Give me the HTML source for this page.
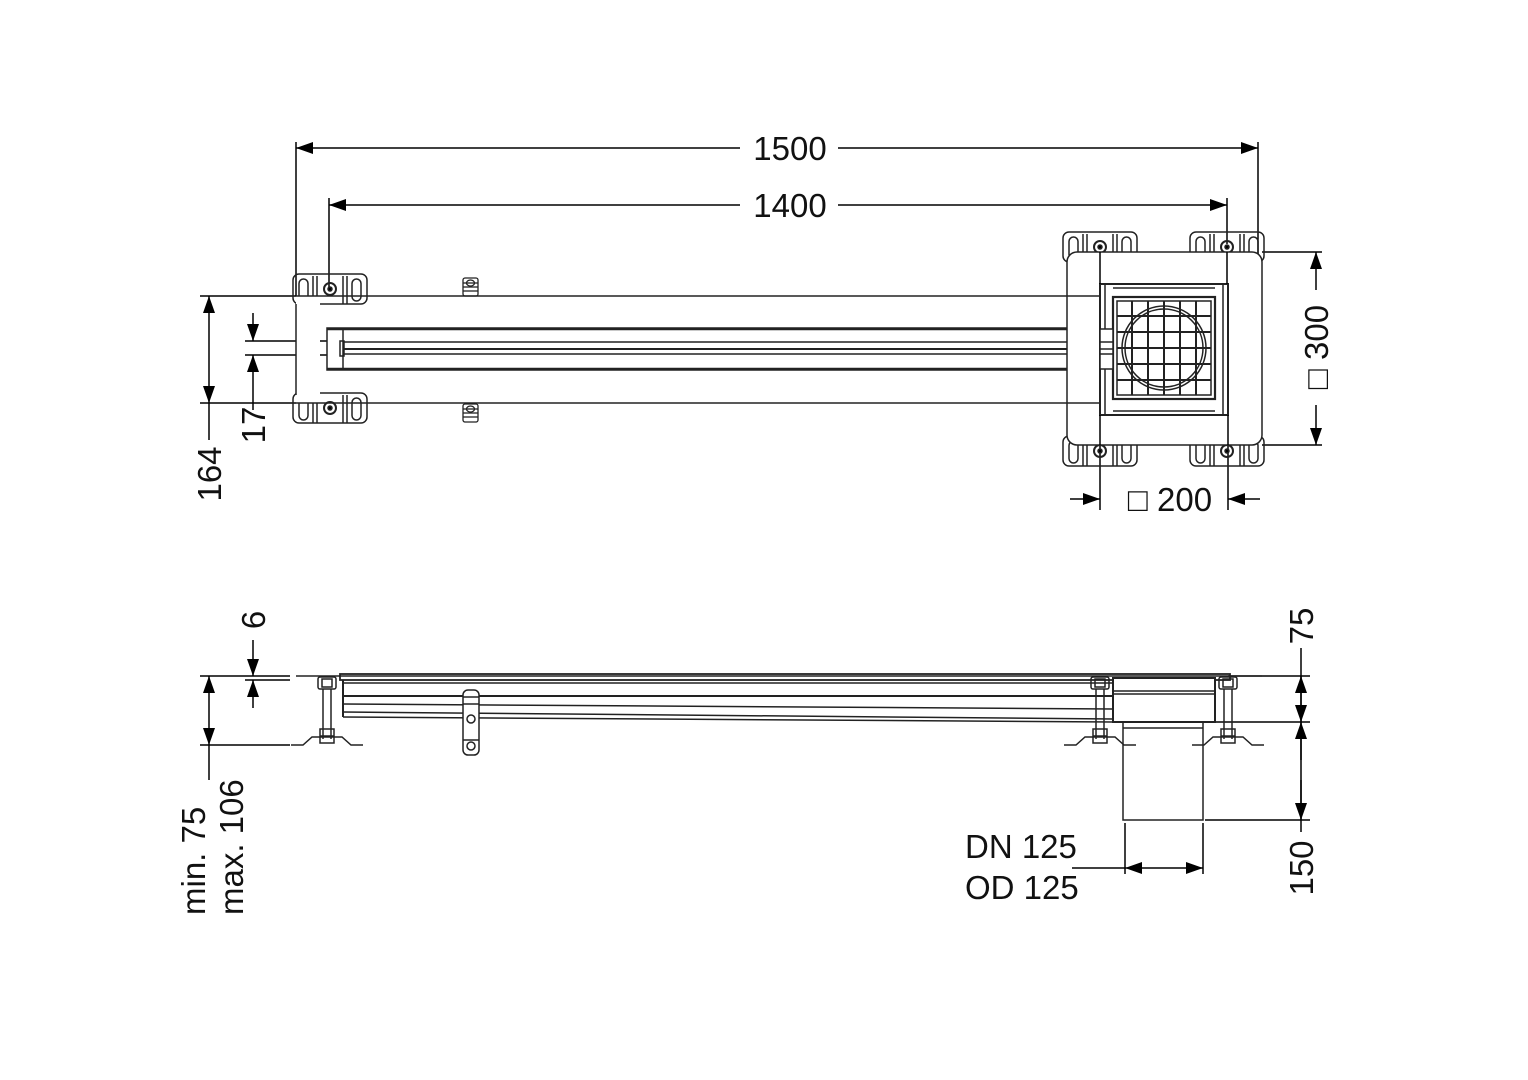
<!DOCTYPE html>
<html><head><meta charset="utf-8"><style>
html,body{margin:0;padding:0;background:#fff;}
svg{display:block}
text{font-family:"Liberation Sans",Arial,sans-serif;font-size:33px;fill:#111}
</style></head><body>
<svg width="1528" height="1080" viewBox="0 0 1528 1080" xmlns="http://www.w3.org/2000/svg">
<defs>
<marker id="a" markerUnits="userSpaceOnUse" markerWidth="18" markerHeight="14" refX="17" refY="6" orient="auto"><path d="M0,0 L17,6 L0,12 z" fill="#000"/></marker>
<g id="plate" fill="none" stroke="#222" stroke-width="1.5">
<rect x="0" y="0" width="74" height="30" rx="6"/>
<rect x="6" y="5" width="9" height="22" rx="4.5"/>
<rect x="59" y="5" width="9" height="22" rx="4.5"/>
<line x1="20" y1="2" x2="20" y2="30"/><line x1="24" y1="2" x2="24" y2="30"/>
<line x1="50" y1="2" x2="50" y2="30"/><line x1="54" y1="2" x2="54" y2="30"/>
<circle cx="37" cy="15" r="6" stroke-width="2"/><circle cx="37" cy="15" r="2" fill="#000"/>
</g>
<g id="clip" fill="none" stroke="#222" stroke-width="1.3">
<rect x="0" y="0" width="15" height="18" rx="2"/>
<line x1="0" y1="5" x2="15" y2="5"/><line x1="0" y1="9" x2="15" y2="9"/><line x1="0" y1="13" x2="15" y2="13"/>
<ellipse cx="7.5" cy="5" rx="4" ry="3"/>
</g>
<g id="bolt" fill="none" stroke="#222" stroke-width="1.5">
<rect x="-9" y="0" width="18" height="12" rx="2"/>
<rect x="-5" y="2" width="10" height="8"/>
<line x1="-4" y1="12" x2="-4" y2="62"/><line x1="4" y1="12" x2="4" y2="62"/>
<rect x="-7" y="52" width="14" height="14"/>
<line x1="-7" y1="59" x2="7" y2="59"/>
<path d="M-36,68 L-24,68 L-15,60 L15,60 L24,68 L36,68"/>
</g>
</defs>

<g stroke="#000" stroke-width="1.5" fill="none">
<line x1="296" y1="142" x2="296" y2="296"/>
<line x1="1258" y1="142" x2="1258" y2="268"/>
<line x1="740" y1="148" x2="296" y2="148" marker-end="url(#a)"/>
<line x1="838" y1="148" x2="1258" y2="148" marker-end="url(#a)"/>
<line x1="329" y1="198" x2="329" y2="290"/>
<line x1="1227" y1="198" x2="1227" y2="244"/>
<line x1="740" y1="205" x2="329" y2="205" marker-end="url(#a)"/>
<line x1="838" y1="205" x2="1227" y2="205" marker-end="url(#a)"/>

<line x1="200" y1="296" x2="296" y2="296"/>
<line x1="200" y1="403" x2="296" y2="403"/>
<line x1="209" y1="350" x2="209" y2="296" marker-end="url(#a)"/>
<line x1="209" y1="350" x2="209" y2="403" marker-end="url(#a)"/>
<line x1="209" y1="403" x2="209" y2="440"/>
<line x1="245" y1="341" x2="329" y2="341"/>
<line x1="245" y1="355" x2="329" y2="355"/>
<line x1="253" y1="313" x2="253" y2="341" marker-end="url(#a)"/>
<line x1="253" y1="410" x2="253" y2="355" marker-end="url(#a)"/>

<line x1="1262" y1="252" x2="1322" y2="252"/>
<line x1="1262" y1="445" x2="1322" y2="445"/>
<line x1="1316" y1="290" x2="1316" y2="252" marker-end="url(#a)"/>
<line x1="1316" y1="405" x2="1316" y2="445" marker-end="url(#a)"/>
<line x1="1100" y1="415" x2="1100" y2="510"/>
<line x1="1228" y1="415" x2="1228" y2="510"/>
<line x1="1070" y1="499" x2="1100" y2="499" marker-end="url(#a)"/>
<line x1="1260" y1="499" x2="1228" y2="499" marker-end="url(#a)"/>
</g>

<g stroke="#222" stroke-width="1.5" fill="none">
<use href="#plate" x="293" y="274"/>
<use href="#plate" x="293" y="393"/>
<rect x="296" y="296" width="24" height="107" fill="#fff" stroke="none"/>
<path d="M296,304 L296,395"/>
<line x1="296" y1="296" x2="1067" y2="296"/>
<line x1="296" y1="403" x2="1067" y2="403"/>
<use href="#clip" x="463" y="278"/>
<use href="#clip" x="463" y="404"/>
<rect x="327" y="328" width="786" height="42" fill="#fff"/>
<line x1="343" y1="328" x2="343" y2="370"/>
<line x1="343" y1="342" x2="1113" y2="342"/>
<line x1="343" y1="349" x2="1113" y2="349" stroke-width="2"/>
<line x1="343" y1="354" x2="1113" y2="354"/>
<line x1="327" y1="329" x2="1113" y2="329" stroke-width="2.5"/>
<line x1="327" y1="369" x2="1113" y2="369" stroke-width="2.5"/>
<rect x="340" y="341" width="4" height="15"/>

<use href="#plate" x="1063" y="232"/>
<use href="#plate" x="1190" y="232"/>
<use href="#plate" x="1063" y="436"/>
<use href="#plate" x="1190" y="436"/>
<rect x="1067" y="252" width="195" height="193" rx="10" fill="#fff"/>
<line x1="1067" y1="296" x2="1100" y2="296"/>
<line x1="1067" y1="403" x2="1100" y2="403"/>
<rect x="1100" y="284" width="128" height="131" fill="#fff" stroke-width="2"/>
<line x1="1113" y1="288" x2="1215" y2="288"/>
<line x1="1113" y1="411" x2="1215" y2="411"/>
<line x1="1105" y1="284" x2="1105" y2="415"/>
<line x1="1223" y1="284" x2="1223" y2="415"/>
<rect x="1113" y="297" width="102" height="102" stroke-width="2.2"/>
<rect x="1117" y="301" width="94" height="94"/>
<circle cx="1164" cy="348" r="42"/>
<circle cx="1164" cy="348" r="39"/>
<g stroke-width="2">
<line x1="1132" y1="301" x2="1132" y2="395"/><line x1="1148" y1="301" x2="1148" y2="395"/>
<line x1="1164" y1="301" x2="1164" y2="395"/><line x1="1180" y1="301" x2="1180" y2="395"/>
<line x1="1196" y1="301" x2="1196" y2="395"/>
<line x1="1117" y1="316" x2="1211" y2="316"/><line x1="1117" y1="332" x2="1211" y2="332"/>
<line x1="1117" y1="348" x2="1211" y2="348"/><line x1="1117" y1="364" x2="1211" y2="364"/>
<line x1="1117" y1="380" x2="1211" y2="380"/>
</g>
<rect x="1100" y="329" width="13" height="40" fill="#fff"/>
<line x1="1100" y1="342" x2="1113" y2="342"/><line x1="1100" y1="349" x2="1113" y2="349"/><line x1="1100" y1="354" x2="1113" y2="354"/>
<line x1="1100" y1="252" x2="1100" y2="284" stroke="#000"/>
<line x1="1227" y1="252" x2="1227" y2="284" stroke="#000"/>
<line x1="1100" y1="415" x2="1100" y2="445" stroke="#000"/>
<line x1="1228" y1="415" x2="1228" y2="445" stroke="#000"/>
</g>

<text x="790" y="160" text-anchor="middle">1500</text>
<text x="790" y="217" text-anchor="middle">1400</text>
<text transform="translate(221,474) rotate(-90)" text-anchor="middle">164</text>
<text transform="translate(265,425) rotate(-90)" text-anchor="middle">17</text>
<text transform="translate(1328,347) rotate(-90)" text-anchor="middle">□ 300</text>
<text x="1170" y="511" text-anchor="middle">□ 200</text>

<g stroke="#000" stroke-width="1.5" fill="none">
<line x1="200" y1="676" x2="290" y2="676"/>
<line x1="200" y1="745" x2="290" y2="745"/>
<line x1="209" y1="710" x2="209" y2="676" marker-end="url(#a)"/>
<line x1="209" y1="710" x2="209" y2="745" marker-end="url(#a)"/>
<line x1="209" y1="745" x2="209" y2="780"/>
<line x1="245" y1="680" x2="290" y2="680"/>
<line x1="253" y1="640" x2="253" y2="676" marker-end="url(#a)"/>
<line x1="253" y1="708" x2="253" y2="680" marker-end="url(#a)"/>

<line x1="1228" y1="676" x2="1310" y2="676"/>
<line x1="1215" y1="722" x2="1310" y2="722"/>
<line x1="1205" y1="820" x2="1310" y2="820"/>
<line x1="1301" y1="648" x2="1301" y2="832"/>
<line x1="1301" y1="700" x2="1301" y2="676" marker-end="url(#a)"/>
<line x1="1301" y1="700" x2="1301" y2="722" marker-end="url(#a)"/>
<line x1="1301" y1="760" x2="1301" y2="722" marker-end="url(#a)"/>
<line x1="1301" y1="780" x2="1301" y2="820" marker-end="url(#a)"/>

<line x1="1125" y1="823" x2="1125" y2="874"/>
<line x1="1203" y1="823" x2="1203" y2="874"/>
<line x1="1072" y1="868" x2="1125" y2="868"/>
<line x1="1164" y1="868" x2="1125" y2="868" marker-end="url(#a)"/>
<line x1="1164" y1="868" x2="1203" y2="868" marker-end="url(#a)"/>
</g>

<g stroke="#222" stroke-width="1.5" fill="none">
<line x1="296" y1="676" x2="1262" y2="676"/>
<rect x="340" y="674" width="890" height="6" stroke-width="1.8"/>
<line x1="343" y1="683" x2="1113" y2="683"/>
<line x1="343" y1="680" x2="343" y2="717" stroke-width="2"/>
<line x1="343" y1="696" x2="1113" y2="696" stroke-width="2"/>
<line x1="343" y1="704" x2="1113" y2="709"/>
<line x1="343" y1="712" x2="1113" y2="719"/>
<line x1="343" y1="717" x2="1113" y2="722"/>
<use href="#bolt" x="327" y="677"/>
<use href="#bolt" x="1100" y="677"/>
<use href="#bolt" x="1228" y="677"/>
<rect x="463" y="690" width="16" height="65" rx="5" fill="#fff"/>
<line x1="463" y1="697" x2="479" y2="697"/><line x1="463" y1="704" x2="479" y2="704"/>
<line x1="463" y1="740" x2="479" y2="740"/>
<circle cx="471" cy="719" r="4"/><circle cx="471" cy="746" r="4"/>
<rect x="1113" y="678" width="102" height="44" fill="#fff" stroke-width="2"/>
<line x1="1113" y1="691" x2="1215" y2="691"/>
<line x1="1113" y1="694" x2="1215" y2="694"/>
<rect x="1123" y="722" width="80" height="98"/>
<line x1="1123" y1="728" x2="1203" y2="728"/>
</g>

<text transform="translate(265,620) rotate(-90)" text-anchor="middle">6</text>
<text transform="translate(1313,626) rotate(-90)" text-anchor="middle">75</text>
<text transform="translate(1313,868) rotate(-90)" text-anchor="middle">150</text>
<text transform="translate(205,915) rotate(-90)">min. 75</text>
<text transform="translate(243,915) rotate(-90)">max. 106</text>
<text x="965" y="858">DN 125</text>
<text x="965" y="899">OD 125</text>
</svg>
</body></html>
